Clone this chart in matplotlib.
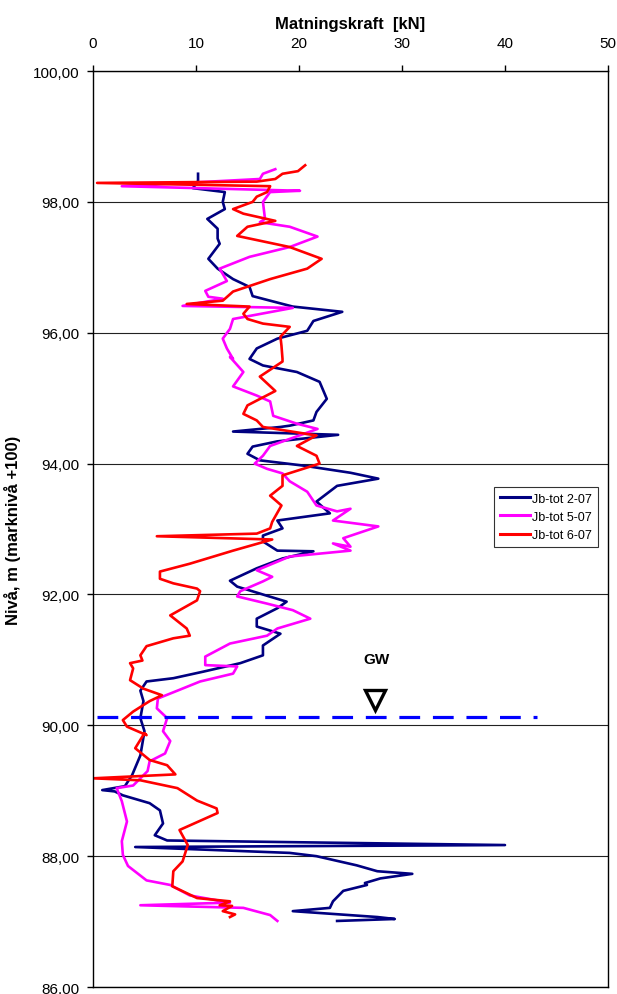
import matplotlib
matplotlib.use("Agg")
import numpy as np
from matplotlib import pyplot as plt
from matplotlib.ticker import FuncFormatter

plt.rcParams['font.family'] = ['Liberation Sans', 'DejaVu Sans']

# Jb-tot 2-07 (kraft kN, nivå m)
kraft_2 = [10.2, 10.2, 9.7, 12.8, 12.6, 12.8, 11.1, 12.1, 12.1, 12.3, 11.2, 12.1, 13.6, 15.2, 15.5,
           17.2, 19.4, 24.2, 21.4, 20.8, 17.9, 15.9, 15.2, 16.5, 19.8, 22.0, 22.7, 21.7, 21.4, 19.1,
           18.2, 13.6, 23.8, 17.9, 15.5, 15.0, 16.2, 20.4, 25.0, 27.7, 23.7, 21.7, 23.0, 17.9, 18.4,
           16.5, 16.5, 17.9, 21.4, 18.4, 15.9, 13.3, 14.0, 16.9, 18.8, 17.9, 15.9, 15.9, 18.2, 16.5,
           16.5, 14.3, 10.7, 7.8, 5.2, 4.6, 4.9, 4.6, 5.0, 4.6, 3.8, 3.1, 0.9, 2.1, 2.9, 5.5, 6.5,
           6.8, 6.0, 7.2, 40.0, 4.1, 19.1, 21.7, 25.6, 27.6, 31.0, 27.9, 26.4, 26.6, 24.3, 23.3,
           23.0, 19.4, 27.6, 29.3, 23.7]
niva_2 = [98.43, 98.32, 98.21, 98.15, 98.00, 97.89, 97.74, 97.59, 97.44, 97.36, 97.13, 96.98, 96.82,
          96.70, 96.56, 96.49, 96.40, 96.32, 96.18, 96.03, 95.91, 95.76, 95.60, 95.50, 95.40, 95.25,
          94.99, 94.79, 94.66, 94.58, 94.56, 94.49, 94.44, 94.34, 94.26, 94.15, 94.05, 93.97, 93.86,
          93.77, 93.66, 93.42, 93.24, 93.13, 93.01, 92.90, 92.81, 92.67, 92.66, 92.55, 92.40, 92.21,
          92.12, 91.98, 91.89, 91.79, 91.63, 91.51, 91.40, 91.22, 91.07, 90.95, 90.82, 90.72, 90.67,
          90.53, 90.37, 90.11, 89.91, 89.54, 89.24, 89.07, 89.01, 88.99, 88.93, 88.81, 88.70, 88.50,
          88.32, 88.24, 88.17, 88.14, 88.05, 88.00, 87.86, 87.77, 87.73, 87.66, 87.59, 87.56, 87.47,
          87.31, 87.21, 87.16, 87.07, 87.04, 87.01]

# Jb-tot 5-07
kraft_5 = [17.7, 16.5, 16.2, 2.8, 20.1, 17.2, 16.5, 16.7, 16.2, 19.1, 21.8, 19.1, 15.2, 12.3, 13.0,
           10.9, 11.2, 12.6, 8.7, 19.4, 13.6, 13.3, 12.6, 13.0, 13.6, 13.3, 14.6, 13.6, 15.9, 17.2,
           17.5, 19.8, 21.8, 17.2, 16.5, 15.7, 16.9, 18.4, 19.1, 20.8, 21.7, 23.7, 25.0, 23.3, 27.7,
           24.3, 25.0, 23.3, 25.0, 19.1, 15.9, 17.4, 16.5, 14.3, 14.0, 16.9, 19.4, 21.1, 17.9, 16.9,
           13.3, 10.9, 10.9, 14.0, 13.6, 10.4, 8.2, 6.3, 6.2, 7.2, 6.8, 7.5, 7.0, 5.5, 5.3, 3.9, 2.3,
           2.8, 3.3, 2.8, 2.9, 3.4, 5.2, 7.5, 9.4, 13.3, 4.6, 14.6, 17.2, 17.9]
niva_5 = [98.50, 98.43, 98.35, 98.24, 98.17, 98.15, 98.00, 97.74, 97.69, 97.62, 97.47, 97.31, 97.16,
          96.98, 96.79, 96.64, 96.55, 96.52, 96.41, 96.38, 96.21, 96.06, 95.91, 95.76, 95.60, 95.63,
          95.40, 95.18, 95.04, 94.95, 94.73, 94.61, 94.53, 94.27, 94.12, 94.00, 93.92, 93.85, 93.73,
          93.57, 93.36, 93.27, 93.31, 93.13, 93.04, 92.86, 92.73, 92.78, 92.67, 92.58, 92.37, 92.27,
          92.20, 92.05, 91.97, 91.86, 91.76, 91.63, 91.48, 91.37, 91.25, 91.05, 90.92, 90.90, 90.79,
          90.67, 90.53, 90.41, 90.26, 90.11, 89.91, 89.76, 89.57, 89.45, 89.30, 89.08, 89.04, 88.84,
          88.53, 88.23, 88.02, 87.85, 87.63, 87.56, 87.40, 87.29, 87.25, 87.21, 87.10, 87.01]

# Jb-tot 6-07
kraft_6 = [20.6, 19.9, 18.4, 17.7, 15.9, 0.4, 17.2, 16.9, 15.9, 15.5, 13.6, 14.6, 17.7, 15.0, 14.0,
           19.1, 22.2, 20.8, 17.2, 13.6, 12.6, 9.1, 15.2, 14.6, 15.0, 16.5, 19.1, 18.2, 18.3, 18.4,
           18.4, 16.2, 17.7, 15.0, 14.6, 15.9, 16.5, 21.7, 19.8, 21.7, 22.0, 18.4, 18.4, 17.2, 18.3,
           17.4, 17.2, 15.9, 6.2, 17.4, 13.6, 9.4, 6.5, 6.5, 7.8, 10.1, 10.4, 10.1, 7.5, 9.1, 9.4,
           7.8, 5.2, 4.6, 4.8, 3.6, 3.9, 3.6, 4.9, 6.7, 5.5, 3.9, 2.9, 3.3, 5.2, 5.0, 4.1, 5.5, 7.2,
           8.0, 0.0, 4.6, 8.2, 10.1, 12.0, 12.1, 8.4, 9.2, 8.7, 7.8, 7.7, 10.1, 13.3, 12.3, 13.5,
           12.6, 13.8, 13.3]
niva_6 = [98.56, 98.47, 98.43, 98.35, 98.31, 98.29, 98.24, 98.15, 98.08, 98.00, 97.89, 97.82, 97.71,
          97.62, 97.48, 97.31, 97.13, 96.98, 96.82, 96.63, 96.49, 96.44, 96.40, 96.29, 96.21, 96.14,
          96.09, 95.94, 95.80, 95.60, 95.56, 95.33, 95.11, 94.89, 94.76, 94.66, 94.56, 94.43, 94.27,
          94.12, 94.00, 93.82, 93.66, 93.51, 93.36, 93.11, 93.01, 92.93, 92.89, 92.84, 92.67, 92.47,
          92.35, 92.24, 92.17, 92.09, 92.05, 91.91, 91.68, 91.48, 91.37, 91.33, 91.21, 91.07, 90.99,
          90.95, 90.87, 90.69, 90.56, 90.46, 90.37, 90.21, 90.08, 89.98, 89.85, 89.88, 89.65, 89.47,
          89.39, 89.25, 89.19, 89.16, 89.04, 88.85, 88.73, 88.66, 88.40, 88.17, 87.92, 87.77, 87.54,
          87.36, 87.31, 87.25, 87.24, 87.16, 87.11, 87.07]

serier = ["Jb-tot 2-07", "Jb-tot 5-07", "Jb-tot 6-07"]
farger = ["#000080", "#FF00FF", "#FF0000"]

gw_niva = 90.12
gw_slut = 43.1

fig = plt.figure(figsize=(6.17, 9.95), dpi=100)
ax = fig.add_axes([0.1507, 0.007, 0.8347, 0.9206])

for namn, x, y, c in zip(serier, [kraft_2, kraft_5, kraft_6], [niva_2, niva_5, niva_6], farger):
    ax.plot(x, y, color=c, lw=1.9, label=namn, solid_joinstyle="round")

# grundvattenyta
ax.plot([0.4, gw_slut], [gw_niva, gw_niva], color="#0000FF", lw=2.3, dashes=(6.5, 4))
ax.plot([27.4], [90.38], marker="v", ms=15, mfc="white", mec="black", mew=2.4, ls="none")
ax.text(27.5, 91.02, "GW", fontsize=11, fontweight="bold", ha="center", va="center")

ax.set_xlim(0, 50)
ax.set_ylim(86, 100)
ax.xaxis.tick_top()
ax.xaxis.set_label_position("top")
ax.set_xticks(np.arange(0, 51, 10))
ax.set_yticks(np.arange(86, 100.1, 2))
ax.yaxis.set_major_formatter(FuncFormatter(lambda v, p: f"{v:.2f}".replace(".", ",")))
ax.tick_params(axis="both", labelsize=11, direction="out", length=4, width=1)
ax.tick_params(axis="x", pad=11)
ax.tick_params(axis="y", pad=6)
ax.grid(axis="y", color="#222222", lw=0.8)
for s in ax.spines.values():
    s.set_linewidth(1.0)

ax.set_xlabel("Matningskraft  [kN]", fontsize=12, fontweight="bold", labelpad=6)
ax.set_ylabel("Nivå, m (marknivå +100)", fontsize=12, fontweight="bold", labelpad=8)

leg = ax.legend(loc="upper left", bbox_to_anchor=(0.779, 0.546), fontsize=9,
                frameon=True, fancybox=False, handlelength=2.4, borderpad=0.45,
                labelspacing=0.5, handletextpad=0.2, borderaxespad=0)
leg.get_frame().set_edgecolor("black")
leg.get_frame().set_linewidth(0.8)
for l in leg.get_lines():
    l.set_linewidth(2.2)

plt.savefig("out.png", dpi=100)
